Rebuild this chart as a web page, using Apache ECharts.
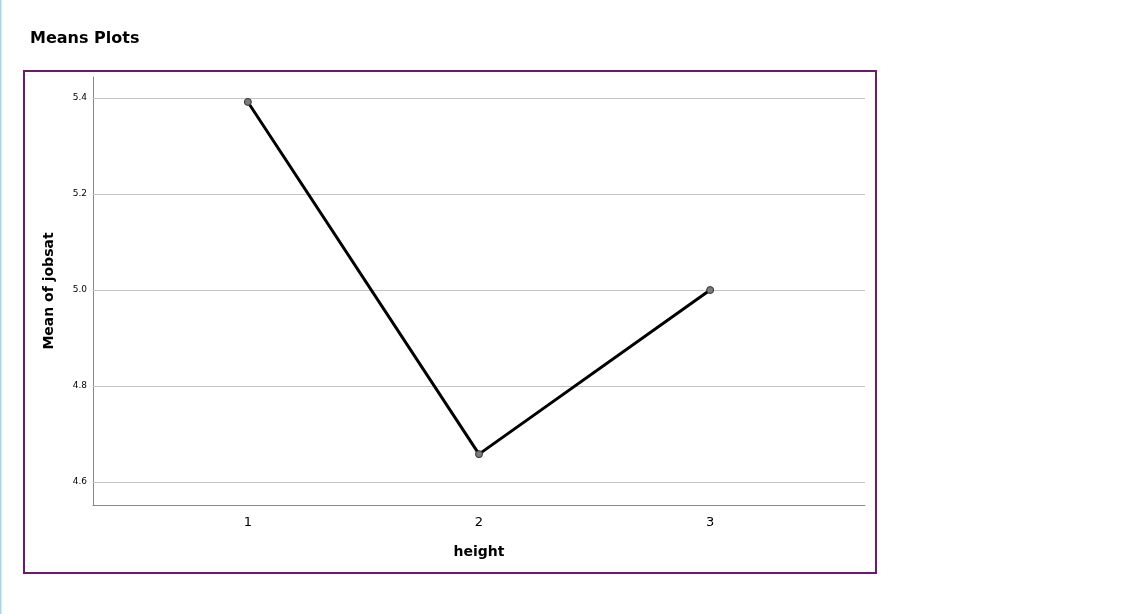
<!DOCTYPE html>
<html>
<head>
<meta charset="utf-8">
<script src="https://cdn.jsdelivr.net/npm/echarts@6/dist/echarts.min.js"></script>
<style>
html,body{margin:0;padding:0;background:#fff;}
#chart{width:1147px;height:614px;}
</style>
</head>
<body>
<div id="chart"></div>
<script>
const categories = [1, 2, 3];
const meanJobsat = [5.392, 4.658, 5.0];
const yTicks = [4.6, 4.8, 5.0, 5.2, 5.4];

const chart = echarts.init(document.getElementById('chart'), null, {renderer: 'canvas'});
const font = '"DejaVu Sans", "Noto Sans", sans-serif';

chart.setOption({
  animation: false,
  backgroundColor: '#ffffff',
  title: {
    text: 'Means Plots',
    left: 30, top: 31, padding: 0,
    textStyle: {fontFamily: font, fontSize: 16, fontWeight: 'bold', color: '#000'}
  },
  graphic: [
    {type: 'rect', shape: {x: 0, y: 0, width: 1.5, height: 614}, style: {fill: '#a8d4ec'}, silent: true},
    {type: 'rect', shape: {x: 24, y: 71, width: 852, height: 502}, style: {fill: 'none', stroke: '#6a1b6f', lineWidth: 2}, silent: true}
  ],
  grid: {left: 93, right: 282, top: 77, bottom: 109, containLabel: false},
  xAxis: {
    type: 'value',
    min: 0.33, max: 3.67,
    name: 'height',
    nameLocation: 'middle',
    nameGap: 40,
    nameTextStyle: {fontFamily: font, fontSize: 14, fontWeight: 'bold', color: '#000'},
    axisLine: {show: true, lineStyle: {color: '#888', width: 1}},
    axisTick: {show: false},
    splitLine: {show: false},
    axisLabel: {
      customValues: categories,
      fontFamily: font, fontSize: 13, color: '#000', margin: 11
    }
  },
  yAxis: {
    type: 'value',
    min: 4.552, max: 5.444,
    name: 'Mean of jobsat',
    nameLocation: 'middle',
    nameGap: 37,
    nameRotate: 90,
    nameTextStyle: {fontFamily: font, fontSize: 14, fontWeight: 'bold', color: '#000'},
    axisLine: {show: true, lineStyle: {color: '#888', width: 1}},
    axisTick: {show: false},
    axisLabel: {
      customValues: yTicks,
      formatter: v => v.toFixed(1),
      fontFamily: font, fontSize: 9, color: '#000', margin: 6
    },
    splitLine: {show: false}
  },
  series: [
    {
      type: 'line',
      data: categories.map((c, i) => [c, meanJobsat[i]]),
      lineStyle: {color: '#000', width: 3},
      symbol: 'circle',
      symbolSize: 7,
      itemStyle: {color: '#7a7a7a', borderColor: '#333', borderWidth: 1},
      z: 3,
      markLine: {
        silent: true,
        symbol: 'none',
        label: {show: false},
        lineStyle: {color: '#c4c4c4', width: 1, type: 'solid'},
        data: yTicks.map(v => ({yAxis: v})),
        z: 1
      }
    }
  ]
});
</script>
</body>
</html>
